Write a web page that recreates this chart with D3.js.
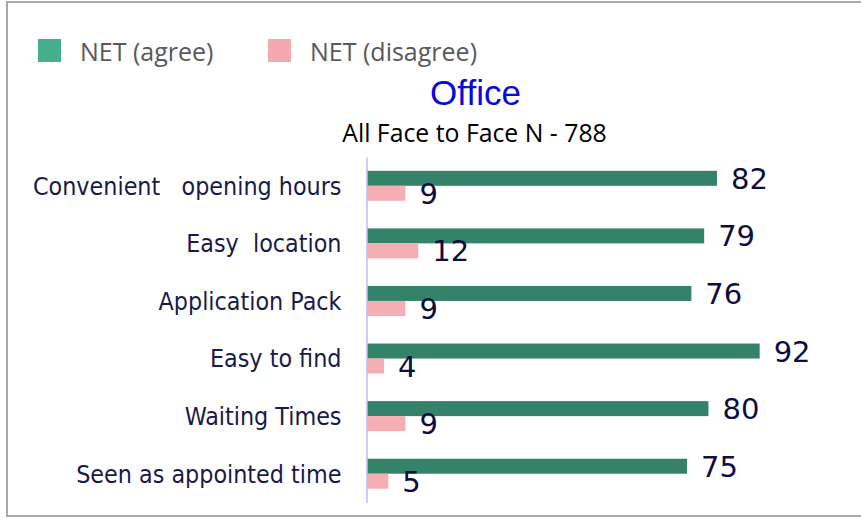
<!DOCTYPE html>
<html>
<head>
<meta charset="utf-8">
<script src="https://cdn.jsdelivr.net/npm/d3@7"></script>
<style>
  html, body { margin: 0; padding: 0; background: #fff; }
  svg { display: block; }
</style>
</head>
<body>
<svg id="chart" width="861" height="518"></svg>
<script>
// Survey items (top to bottom) and their NET scores
const categories = [
  "Convenient   opening hours",
  "Easy  location",
  "Application Pack",
  "Easy to find",
  "Waiting Times",
  "Seen as appointed time"
];
const agreeValues = [82, 79, 76, 92, 80, 75];
const disagreeValues = [9, 12, 9, 4, 9, 5];
const seriesNames = ["NET (agree)", "NET (disagree)"];

const title = "Office";
const subtitle = "All Face to Face N - 788";

const svg = d3.select("#chart");

// Frame around the chart area
svg.append("rect")
  .attr("x", 7).attr("y", 2)
  .attr("width", 880).attr("height", 514)
  .attr("fill", "none")
  .attr("stroke", "#a8a8a8")
  .attr("stroke-width", 2);

// Scales
const x = d3.scaleLinear().domain([0, 100]).range([367, 793.8]);
const pad = 0.479;
const y = d3.scaleBand()
  .domain(categories)
  .range([157, 502.5])
  .paddingInner(pad)
  .paddingOuter(pad / 2);
const sub = d3.scaleBand().domain(seriesNames).range([0, y.bandwidth()]);

const barColors = ["#35826a", "#f5aeb4"];
const legendColors = ["#45ae8a", "#f4a9b0"];

const rows = categories.map((c, i) => ({
  cat: c,
  vals: [agreeValues[i], disagreeValues[i]]
}));

// Bars with value labels
const g = svg.append("g");
rows.forEach(r => {
  r.vals.forEach((v, k) => {
    const top = y(r.cat) + sub(seriesNames[k]);
    g.append("rect")
      .attr("x", x(0))
      .attr("y", top)
      .attr("width", x(v) - x(0))
      .attr("height", sub.bandwidth())
      .attr("fill", barColors[k]);
    g.append("text")
      .attr("x", x(v) + 14)
      .attr("y", top + sub.bandwidth() / 2 + 10.5)
      .attr("font-family", "DejaVu Sans, sans-serif")
      .attr("font-size", 29)
      .attr("fill", "#0d0d40")
      .text(v);
  });
});

// Category axis: line plus right-aligned labels
const yAxis = d3.axisLeft(y).tickSize(0).tickPadding(25);
const axisG = svg.append("g")
  .attr("transform", `translate(${x(0) - 0.5},0)`)
  .call(yAxis);
axisG.select(".domain")
  .attr("stroke", "#bdbdfc")
  .attr("stroke-width", 1.5);
axisG.selectAll(".tick text")
  .attr("font-family", "DejaVu Sans Condensed, DejaVu Sans, sans-serif")
  .attr("font-size", 24.8)
  .attr("fill", "#1a1a48")
  .attr("dy", "0.36em")
  .style("white-space", "pre")
  .attr("xml:space", "preserve");

// Title and subtitle
svg.append("text")
  .attr("x", 475.5).attr("y", 105)
  .attr("text-anchor", "middle")
  .attr("font-family", "Liberation Sans, Arial, sans-serif")
  .attr("font-size", 35)
  .attr("fill", "#0a0ad8")
  .text(title);
svg.append("text")
  .attr("x", 474.5).attr("y", 141.5)
  .attr("text-anchor", "middle")
  .attr("font-family", "Open Sans, sans-serif")
  .attr("font-size", 24.8)
  .attr("fill", "#000")
  .text(subtitle);

// Legend
const legendX = [38, 268];
seriesNames.forEach((name, k) => {
  svg.append("rect")
    .attr("x", legendX[k]).attr("y", 39)
    .attr("width", 23).attr("height", 23)
    .attr("fill", legendColors[k]);
  svg.append("text")
    .attr("x", legendX[k] + 42).attr("y", 61)
    .attr("font-family", "Open Sans, sans-serif")
    .attr("font-size", 25)
    .attr("fill", "#595959")
    .text(name);
});
</script>
</body>
</html>
